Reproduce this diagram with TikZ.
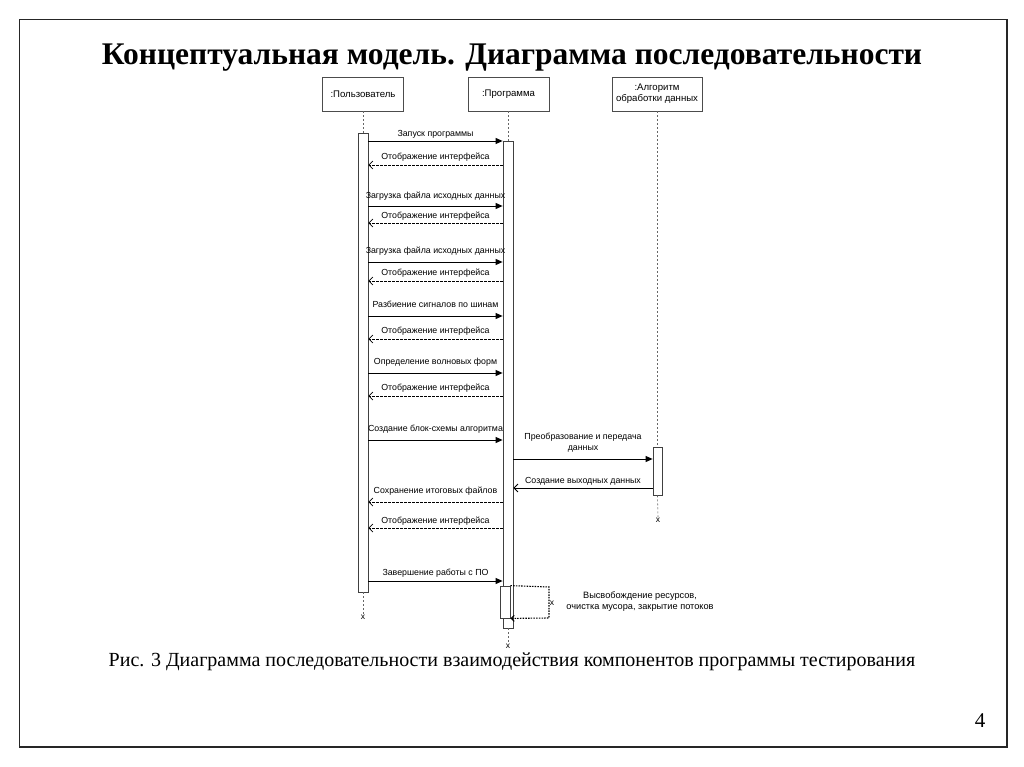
\documentclass[tikz,border=0pt]{standalone}
\usepackage{fontspec}
\setmainfont{Liberation Serif}
\newfontfamily\diagfont{Liberation Sans}
\usetikzlibrary{arrows.meta}
\begin{document}
\begin{tikzpicture}[x=1pt,y=-1pt,
  headbox/.style={draw=black!70, line width=0.7pt, minimum width=81pt, minimum height=34pt, inner sep=1pt, align=center, font=\diagfont\fontsize{9.6}{11}\selectfont},
  actbox/.style={draw=black!75, fill=white, line width=0.8pt, minimum width=10pt, inner sep=0pt},
  lifeline/.style={draw=black!60, dash pattern=on 2pt off 2pt, line width=0.6pt},
  callmsg/.style={-{Triangle[length=7pt,width=6pt]}, line width=0.9pt},
  retmsg/.style={-{Straight Barb[length=4pt,width=8pt]}, dash pattern=on 2.5pt off 1.5pt, line width=0.7pt},
  solidret/.style={-{Straight Barb[length=4pt,width=8pt]}, line width=0.8pt},
  selfmsg/.style={-{Straight Barb[length=3pt,width=6pt]}, dash pattern=on 1.5pt off 1.2pt, line width=1.1pt},
  lbl/.style={font=\diagfont\fontsize{8.8}{9.5}\selectfont, inner sep=0pt, midway, align=center},
  endx/.style={font=\diagfont\fontsize{8.5}{9}\selectfont, inner sep=0pt}
]
\useasboundingbox (0,0) rectangle (1024,767);
\fill[white] (0,0) rectangle (1024,767);
\draw[line width=1.5pt, black!85] (19.5,19.5) rectangle (1007,747);

% title
\node[anchor=base, font=\bfseries\fontsize{31.5}{32}\selectfont, inner sep=0pt] (title) at (512,65) {Концептуальная модель. Диаграмма последовательности};

% heads
\node[headbox] (hu) at (363,94) {:Пользователь};
\node[headbox] (hp) at (508.5,94) {:Программа};
\node[headbox, minimum width=90pt] (ha) at (657,94) {:Алгоритм\\обработки данных};

% activation bars
\node[actbox, minimum height=459pt] (ua) at (363,362.5) {};
\node[actbox, minimum height=487pt] (pa) at (508,384.5) {};
\node[actbox, minimum height=32pt] (pi) at (505,602) {};
\node[actbox, minimum height=48pt, minimum width=9pt] (aa) at (657.5,471) {};

% end marks
\node[endx] (ux) at (363,617) {x};
\node[endx] (px) at (508,646) {x};
\node[endx] (ax) at (658,520) {x};

% lifelines
\draw[lifeline] (hu.south) -- (ua.north);
\draw[lifeline] (ua.south) -- (ux.north);
\draw[lifeline] (hp.south -| pa.north) -- (pa.north);
\draw[lifeline] (pa.south) -- (px.north);
\draw[lifeline] (ha.south -| aa.north) -- (aa.north);
\draw[lifeline] (aa.south) -- (ax.north);

% messages
\draw[callmsg] (ua.east |- 0,141) -- node[lbl, yshift=7pt] {Запуск программы} (pa.west |- 0,141);
\draw[retmsg] (pa.west |- 0,165) -- node[lbl, yshift=8pt] {Отображение интерфейса} (ua.east |- 0,165);
\draw[callmsg] (ua.east |- 0,206) -- node[lbl, yshift=10pt] {Загрузка файла исходных данных} (pa.west |- 0,206);
\draw[retmsg] (pa.west |- 0,223) -- node[lbl, yshift=7pt] {Отображение интерфейса} (ua.east |- 0,223);
\draw[callmsg] (ua.east |- 0,262) -- node[lbl, yshift=11pt] {Загрузка файла исходных данных} (pa.west |- 0,262);
\draw[retmsg] (pa.west |- 0,281) -- node[lbl, yshift=8pt] {Отображение интерфейса} (ua.east |- 0,281);
\draw[callmsg] (ua.east |- 0,316) -- node[lbl, yshift=12pt] {Разбиение сигналов по шинам} (pa.west |- 0,316);
\draw[retmsg] (pa.west |- 0,339) -- node[lbl, yshift=8pt] {Отображение интерфейса} (ua.east |- 0,339);
\draw[callmsg] (ua.east |- 0,373) -- node[lbl, yshift=11pt] {Определение волновых форм} (pa.west |- 0,373);
\draw[retmsg] (pa.west |- 0,396) -- node[lbl, yshift=8pt] {Отображение интерфейса} (ua.east |- 0,396);
\draw[callmsg] (ua.east |- 0,440) -- node[lbl, yshift=11pt] {Создание блок-схемы алгоритма} (pa.west |- 0,440);
\draw[callmsg] (pa.east |- 0,459) -- node[lbl, yshift=16.5pt, font=\diagfont\fontsize{8.8}{11}\selectfont] {Преобразование и передача\\данных} (aa.west |- 0,459);
\draw[solidret] (aa.west |- 0,488) -- node[lbl, yshift=7pt] {Создание выходных данных} (pa.east |- 0,488);
\draw[retmsg] (pa.west |- 0,502) -- node[lbl, yshift=11pt] {Сохранение итоговых файлов} (ua.east |- 0,502);
\draw[retmsg] (pa.west |- 0,528) -- node[lbl, yshift=7pt] {Отображение интерфейса} (ua.east |- 0,528);
\draw[callmsg] (ua.east |- 0,581) -- node[lbl, yshift=8pt] {Завершение работы с ПО} (pa.west |- 0,581);

% self message
\coordinate (sm1) at (549,587);
\coordinate (sm2) at (549,618);
\draw[selfmsg] (pi.north east) -- (sm1) -- (sm2) -- (pi.south east);
\node[endx] (smx) at (552,603) {x};
\node[font=\diagfont\fontsize{9.2}{11}\selectfont, align=center, inner sep=0pt] (smlbl) at (640,601.5) {Высвобождение ресурсов,\\очистка мусора, закрытие потоков};

% caption
\node[anchor=base, font=\fontsize{20}{21}\selectfont, inner sep=0pt] (caption) at (512,666) {Рис. 3 Диаграмма последовательности взаимодействия компонентов программы тестирования};

% page number
\node[anchor=base, font=\fontsize{21}{22}\selectfont, inner sep=0pt] (pnum) at (980,727) {4};
\end{tikzpicture}
\end{document}
